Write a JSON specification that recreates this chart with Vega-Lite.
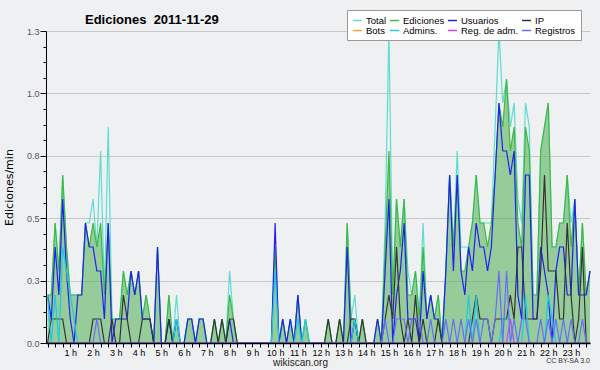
{
"$schema": "https://vega.github.io/schema/vega-lite/v6.json",
"width": 544, "height": 312,
"autosize": {"type": "none"},
"padding": {"left": 46, "top": 31, "right": 10, "bottom": 27},
"background": "#eff0f2",
"config": {"view": {"stroke": null}, "font": "Liberation Sans", "axis": {"labelOverlap": false}},
"title": {"text": "Ediciones\u00a0 2011-11-29", "anchor": "start", "frame": "group", "dx": 39, "dy": 16, "offset": -11, "baseline": "alphabetic", "font": "Liberation Sans", "fontSize": 13, "fontWeight": "bold", "color": "#000000"},
"data": {"values": [
{"m":0,"Total":0.2,"Ediciones":0.2,"Usuarios":0.2,"IP":0,"Admins":0.2,"RegAdm":0,"Registros":0},
{"m":10,"Total":0.2,"Ediciones":0.2,"Usuarios":0.1,"IP":0.1,"Admins":0,"RegAdm":0,"Registros":0},
{"m":20,"Total":0.5,"Ediciones":0.5,"Usuarios":0.4,"IP":0.1,"Admins":0.2,"RegAdm":0,"Registros":0},
{"m":30,"Total":0.3,"Ediciones":0.3,"Usuarios":0.2,"IP":0.1,"Admins":0,"RegAdm":0,"Registros":0},
{"m":40,"Total":0.7,"Ediciones":0.7,"Usuarios":0.6,"IP":0.1,"Admins":0.4,"RegAdm":0,"Registros":0},
{"m":50,"Total":0.4,"Ediciones":0.4,"Usuarios":0.3,"IP":0,"Admins":0.3,"RegAdm":0,"Registros":0},
{"m":60,"Total":0.2,"Ediciones":0.2,"Usuarios":0.1,"IP":0,"Admins":0.2,"RegAdm":0,"Registros":0},
{"m":70,"Total":0.2,"Ediciones":0.2,"Usuarios":0,"IP":0,"Admins":0.1,"RegAdm":0,"Registros":0},
{"m":80,"Total":0.2,"Ediciones":0.2,"Usuarios":0.2,"IP":0,"Admins":0,"RegAdm":0,"Registros":0},
{"m":90,"Total":0.2,"Ediciones":0.2,"Usuarios":0.2,"IP":0,"Admins":0,"RegAdm":0,"Registros":0},
{"m":100,"Total":0.5,"Ediciones":0.5,"Usuarios":0.5,"IP":0,"Admins":0,"RegAdm":0,"Registros":0},
{"m":110,"Total":0.5,"Ediciones":0.4,"Usuarios":0.4,"IP":0,"Admins":0,"RegAdm":0,"Registros":0},
{"m":120,"Total":0.6,"Ediciones":0.5,"Usuarios":0.4,"IP":0.1,"Admins":0,"RegAdm":0,"Registros":0},
{"m":130,"Total":0.4,"Ediciones":0.4,"Usuarios":0.3,"IP":0.1,"Admins":0,"RegAdm":0,"Registros":0.1},
{"m":140,"Total":0.8,"Ediciones":0.5,"Usuarios":0.3,"IP":0.1,"Admins":0,"RegAdm":0,"Registros":0},
{"m":150,"Total":0.2,"Ediciones":0.2,"Usuarios":0.1,"IP":0,"Admins":0,"RegAdm":0,"Registros":0},
{"m":160,"Total":0.9,"Ediciones":0.5,"Usuarios":0.5,"IP":0,"Admins":0,"RegAdm":0,"Registros":0},
{"m":170,"Total":0.1,"Ediciones":0.1,"Usuarios":0,"IP":0.1,"Admins":0,"RegAdm":0,"Registros":0},
{"m":180,"Total":0.1,"Ediciones":0.1,"Usuarios":0.1,"IP":0,"Admins":0,"RegAdm":0,"Registros":0},
{"m":190,"Total":0.1,"Ediciones":0.1,"Usuarios":0.1,"IP":0,"Admins":0,"RegAdm":0,"Registros":0},
{"m":200,"Total":0.3,"Ediciones":0.3,"Usuarios":0.1,"IP":0.2,"Admins":0,"RegAdm":0,"Registros":0},
{"m":210,"Total":0.2,"Ediciones":0.2,"Usuarios":0.1,"IP":0.1,"Admins":0,"RegAdm":0,"Registros":0},
{"m":220,"Total":0.3,"Ediciones":0.3,"Usuarios":0.3,"IP":0,"Admins":0,"RegAdm":0,"Registros":0},
{"m":230,"Total":0.2,"Ediciones":0.2,"Usuarios":0.2,"IP":0,"Admins":0,"RegAdm":0,"Registros":0},
{"m":240,"Total":0.3,"Ediciones":0.3,"Usuarios":0.3,"IP":0,"Admins":0,"RegAdm":0,"Registros":0},
{"m":250,"Total":0.1,"Ediciones":0.1,"Usuarios":0.1,"IP":0.1,"Admins":0,"RegAdm":0,"Registros":0},
{"m":260,"Total":0.2,"Ediciones":0.2,"Usuarios":0.1,"IP":0.1,"Admins":0,"RegAdm":0,"Registros":0},
{"m":270,"Total":0.1,"Ediciones":0.1,"Usuarios":0.1,"IP":0.1,"Admins":0,"RegAdm":0,"Registros":0},
{"m":280,"Total":0,"Ediciones":0,"Usuarios":0,"IP":0,"Admins":0,"RegAdm":0,"Registros":0},
{"m":290,"Total":0.4,"Ediciones":0.4,"Usuarios":0.4,"IP":0,"Admins":0,"RegAdm":0,"Registros":0},
{"m":300,"Total":0,"Ediciones":0,"Usuarios":0,"IP":0,"Admins":0,"RegAdm":0,"Registros":0},
{"m":310,"Total":0,"Ediciones":0,"Usuarios":0,"IP":0,"Admins":0,"RegAdm":0,"Registros":0},
{"m":320,"Total":0.2,"Ediciones":0.2,"Usuarios":0.1,"IP":0.1,"Admins":0,"RegAdm":0,"Registros":0},
{"m":330,"Total":0,"Ediciones":0,"Usuarios":0,"IP":0,"Admins":0,"RegAdm":0,"Registros":0},
{"m":340,"Total":0.2,"Ediciones":0.1,"Usuarios":0.1,"IP":0,"Admins":0.1,"RegAdm":0,"Registros":0},
{"m":350,"Total":0,"Ediciones":0,"Usuarios":0,"IP":0,"Admins":0,"RegAdm":0,"Registros":0},
{"m":360,"Total":0,"Ediciones":0,"Usuarios":0,"IP":0,"Admins":0,"RegAdm":0,"Registros":0},
{"m":370,"Total":0.1,"Ediciones":0.1,"Usuarios":0.1,"IP":0,"Admins":0,"RegAdm":0,"Registros":0},
{"m":380,"Total":0.1,"Ediciones":0.1,"Usuarios":0.1,"IP":0,"Admins":0,"RegAdm":0,"Registros":0},
{"m":390,"Total":0,"Ediciones":0,"Usuarios":0,"IP":0,"Admins":0,"RegAdm":0,"Registros":0},
{"m":400,"Total":0.1,"Ediciones":0.1,"Usuarios":0.1,"IP":0,"Admins":0,"RegAdm":0,"Registros":0},
{"m":410,"Total":0.1,"Ediciones":0.1,"Usuarios":0.1,"IP":0,"Admins":0,"RegAdm":0,"Registros":0},
{"m":420,"Total":0,"Ediciones":0,"Usuarios":0,"IP":0,"Admins":0,"RegAdm":0,"Registros":0},
{"m":430,"Total":0,"Ediciones":0,"Usuarios":0,"IP":0,"Admins":0,"RegAdm":0,"Registros":0},
{"m":440,"Total":0.1,"Ediciones":0.1,"Usuarios":0,"IP":0.1,"Admins":0,"RegAdm":0,"Registros":0},
{"m":450,"Total":0,"Ediciones":0,"Usuarios":0,"IP":0,"Admins":0,"RegAdm":0,"Registros":0},
{"m":460,"Total":0.1,"Ediciones":0.1,"Usuarios":0,"IP":0.1,"Admins":0,"RegAdm":0,"Registros":0},
{"m":470,"Total":0,"Ediciones":0,"Usuarios":0,"IP":0,"Admins":0,"RegAdm":0,"Registros":0},
{"m":480,"Total":0.3,"Ediciones":0.2,"Usuarios":0.1,"IP":0.1,"Admins":0,"RegAdm":0,"Registros":0},
{"m":490,"Total":0.1,"Ediciones":0.1,"Usuarios":0,"IP":0.1,"Admins":0,"RegAdm":0,"Registros":0},
{"m":500,"Total":0,"Ediciones":0,"Usuarios":0,"IP":0,"Admins":0,"RegAdm":0,"Registros":0},
{"m":510,"Total":0,"Ediciones":0,"Usuarios":0,"IP":0,"Admins":0,"RegAdm":0,"Registros":0},
{"m":520,"Total":0,"Ediciones":0,"Usuarios":0,"IP":0,"Admins":0,"RegAdm":0,"Registros":0},
{"m":530,"Total":0,"Ediciones":0,"Usuarios":0,"IP":0,"Admins":0,"RegAdm":0,"Registros":0},
{"m":540,"Total":0,"Ediciones":0,"Usuarios":0,"IP":0,"Admins":0,"RegAdm":0,"Registros":0},
{"m":550,"Total":0,"Ediciones":0,"Usuarios":0,"IP":0,"Admins":0,"RegAdm":0,"Registros":0},
{"m":560,"Total":0,"Ediciones":0,"Usuarios":0,"IP":0,"Admins":0,"RegAdm":0,"Registros":0},
{"m":570,"Total":0,"Ediciones":0,"Usuarios":0,"IP":0,"Admins":0,"RegAdm":0,"Registros":0},
{"m":580,"Total":0,"Ediciones":0,"Usuarios":0,"IP":0,"Admins":0,"RegAdm":0,"Registros":0},
{"m":590,"Total":0,"Ediciones":0,"Usuarios":0,"IP":0,"Admins":0,"RegAdm":0,"Registros":0},
{"m":600,"Total":0.4,"Ediciones":0.4,"Usuarios":0.5,"IP":0,"Admins":0.3,"RegAdm":0,"Registros":0},
{"m":610,"Total":0,"Ediciones":0,"Usuarios":0,"IP":0,"Admins":0,"RegAdm":0,"Registros":0},
{"m":620,"Total":0.1,"Ediciones":0.1,"Usuarios":0.1,"IP":0,"Admins":0,"RegAdm":0,"Registros":0},
{"m":630,"Total":0,"Ediciones":0,"Usuarios":0,"IP":0,"Admins":0,"RegAdm":0,"Registros":0},
{"m":640,"Total":0.1,"Ediciones":0.1,"Usuarios":0.1,"IP":0,"Admins":0,"RegAdm":0,"Registros":0},
{"m":650,"Total":0,"Ediciones":0,"Usuarios":0,"IP":0,"Admins":0,"RegAdm":0,"Registros":0},
{"m":660,"Total":0.2,"Ediciones":0.2,"Usuarios":0.2,"IP":0,"Admins":0.1,"RegAdm":0,"Registros":0},
{"m":670,"Total":0,"Ediciones":0,"Usuarios":0,"IP":0,"Admins":0,"RegAdm":0,"Registros":0},
{"m":680,"Total":0.1,"Ediciones":0.1,"Usuarios":0,"IP":0,"Admins":0.1,"RegAdm":0,"Registros":0},
{"m":690,"Total":0,"Ediciones":0,"Usuarios":0,"IP":0,"Admins":0,"RegAdm":0,"Registros":0},
{"m":700,"Total":0,"Ediciones":0,"Usuarios":0,"IP":0,"Admins":0,"RegAdm":0,"Registros":0},
{"m":710,"Total":0,"Ediciones":0,"Usuarios":0,"IP":0,"Admins":0,"RegAdm":0,"Registros":0},
{"m":720,"Total":0,"Ediciones":0,"Usuarios":0,"IP":0,"Admins":0,"RegAdm":0,"Registros":0},
{"m":730,"Total":0,"Ediciones":0,"Usuarios":0,"IP":0,"Admins":0,"RegAdm":0,"Registros":0},
{"m":740,"Total":0.1,"Ediciones":0.1,"Usuarios":0,"IP":0.1,"Admins":0,"RegAdm":0,"Registros":0},
{"m":750,"Total":0,"Ediciones":0,"Usuarios":0,"IP":0,"Admins":0,"RegAdm":0,"Registros":0},
{"m":760,"Total":0,"Ediciones":0,"Usuarios":0,"IP":0,"Admins":0,"RegAdm":0,"Registros":0},
{"m":770,"Total":0.1,"Ediciones":0.1,"Usuarios":0,"IP":0.1,"Admins":0,"RegAdm":0,"Registros":0},
{"m":780,"Total":0,"Ediciones":0,"Usuarios":0,"IP":0,"Admins":0,"RegAdm":0,"Registros":0},
{"m":790,"Total":0.5,"Ediciones":0.5,"Usuarios":0.4,"IP":0,"Admins":0,"RegAdm":0,"Registros":0},
{"m":800,"Total":0.1,"Ediciones":0.1,"Usuarios":0,"IP":0.1,"Admins":0,"RegAdm":0,"Registros":0},
{"m":810,"Total":0.2,"Ediciones":0.1,"Usuarios":0.1,"IP":0.1,"Admins":0.1,"RegAdm":0,"Registros":0},
{"m":820,"Total":0,"Ediciones":0,"Usuarios":0,"IP":0,"Admins":0,"RegAdm":0,"Registros":0},
{"m":830,"Total":0.1,"Ediciones":0.1,"Usuarios":0,"IP":0.1,"Admins":0,"RegAdm":0,"Registros":0},
{"m":840,"Total":0,"Ediciones":0,"Usuarios":0,"IP":0,"Admins":0,"RegAdm":0,"Registros":0},
{"m":850,"Total":0,"Ediciones":0,"Usuarios":0,"IP":0,"Admins":0,"RegAdm":0,"Registros":0},
{"m":860,"Total":0,"Ediciones":0,"Usuarios":0,"IP":0,"Admins":0,"RegAdm":0,"Registros":0},
{"m":870,"Total":0.1,"Ediciones":0.1,"Usuarios":0.1,"IP":0,"Admins":0,"RegAdm":0,"Registros":0},
{"m":880,"Total":0,"Ediciones":0,"Usuarios":0,"IP":0,"Admins":0,"RegAdm":0,"Registros":0},
{"m":890,"Total":0.5,"Ediciones":0.4,"Usuarios":0.3,"IP":0.1,"Admins":0,"RegAdm":0,"Registros":0.1},
{"m":900,"Total":1.3,"Ediciones":0.8,"Usuarios":0.6,"IP":0.2,"Admins":0,"RegAdm":0,"Registros":0},
{"m":910,"Total":0.2,"Ediciones":0.2,"Usuarios":0,"IP":0.1,"Admins":0,"RegAdm":0,"Registros":0},
{"m":920,"Total":0.6,"Ediciones":0.6,"Usuarios":0.2,"IP":0.4,"Admins":0,"RegAdm":0,"Registros":0.1},
{"m":930,"Total":0.4,"Ediciones":0.4,"Usuarios":0.3,"IP":0.1,"Admins":0,"RegAdm":0,"Registros":0.1},
{"m":940,"Total":0.6,"Ediciones":0.6,"Usuarios":0.5,"IP":0,"Admins":0,"RegAdm":0,"Registros":0.1},
{"m":950,"Total":0.3,"Ediciones":0.2,"Usuarios":0.1,"IP":0.1,"Admins":0,"RegAdm":0,"Registros":0},
{"m":960,"Total":0.2,"Ediciones":0.2,"Usuarios":0.1,"IP":0,"Admins":0,"RegAdm":0,"Registros":0.1},
{"m":970,"Total":0.3,"Ediciones":0.3,"Usuarios":0.1,"IP":0.2,"Admins":0,"RegAdm":0,"Registros":0.1},
{"m":980,"Total":0.1,"Ediciones":0.1,"Usuarios":0,"IP":0,"Admins":0,"RegAdm":0,"Registros":0.1},
{"m":990,"Total":0.5,"Ediciones":0.4,"Usuarios":0.3,"IP":0.1,"Admins":0,"RegAdm":0,"Registros":0},
{"m":1000,"Total":0.1,"Ediciones":0.1,"Usuarios":0.1,"IP":0,"Admins":0,"RegAdm":0,"Registros":0},
{"m":1010,"Total":0.2,"Ediciones":0.2,"Usuarios":0.2,"IP":0,"Admins":0,"RegAdm":0,"Registros":0.1},
{"m":1020,"Total":0.1,"Ediciones":0.1,"Usuarios":0.1,"IP":0,"Admins":0,"RegAdm":0,"Registros":0},
{"m":1030,"Total":0.2,"Ediciones":0.2,"Usuarios":0.1,"IP":0.1,"Admins":0,"RegAdm":0,"Registros":0},
{"m":1040,"Total":0,"Ediciones":0,"Usuarios":0,"IP":0,"Admins":0,"RegAdm":0,"Registros":0},
{"m":1050,"Total":0.3,"Ediciones":0.3,"Usuarios":0.3,"IP":0,"Admins":0,"RegAdm":0,"Registros":0.1},
{"m":1060,"Total":0.7,"Ediciones":0.7,"Usuarios":0.7,"IP":0,"Admins":0,"RegAdm":0,"Registros":0},
{"m":1070,"Total":0.4,"Ediciones":0.4,"Usuarios":0.3,"IP":0,"Admins":0,"RegAdm":0,"Registros":0.1},
{"m":1080,"Total":0.8,"Ediciones":0.7,"Usuarios":0.7,"IP":0,"Admins":0,"RegAdm":0,"Registros":0},
{"m":1090,"Total":0.4,"Ediciones":0.3,"Usuarios":0.3,"IP":0,"Admins":0,"RegAdm":0,"Registros":0.1},
{"m":1100,"Total":0.4,"Ediciones":0.3,"Usuarios":0.2,"IP":0,"Admins":0,"RegAdm":0,"Registros":0},
{"m":1110,"Total":0.4,"Ediciones":0.4,"Usuarios":0.4,"IP":0,"Admins":0.2,"RegAdm":0,"Registros":0.1},
{"m":1120,"Total":0.5,"Ediciones":0.5,"Usuarios":0.3,"IP":0.1,"Admins":0,"RegAdm":0,"Registros":0},
{"m":1130,"Total":0.7,"Ediciones":0.7,"Usuarios":0.5,"IP":0.2,"Admins":0.2,"RegAdm":0,"Registros":0.1},
{"m":1140,"Total":0.5,"Ediciones":0.5,"Usuarios":0.4,"IP":0.1,"Admins":0,"RegAdm":0,"Registros":0},
{"m":1150,"Total":0.5,"Ediciones":0.5,"Usuarios":0.4,"IP":0.1,"Admins":0,"RegAdm":0,"Registros":0.1},
{"m":1160,"Total":0.5,"Ediciones":0.4,"Usuarios":0.3,"IP":0.1,"Admins":0,"RegAdm":0,"Registros":0.1},
{"m":1170,"Total":0.5,"Ediciones":0.5,"Usuarios":0.4,"IP":0,"Admins":0,"RegAdm":0,"Registros":0},
{"m":1180,"Total":0.9,"Ediciones":0.7,"Usuarios":0.7,"IP":0.1,"Admins":0,"RegAdm":0,"Registros":0.1},
{"m":1190,"Total":1.3,"Ediciones":1.0,"Usuarios":1.0,"IP":0.1,"Admins":0,"RegAdm":0,"Registros":0.3},
{"m":1200,"Total":1.0,"Ediciones":0.9,"Usuarios":0.8,"IP":0.1,"Admins":0.1,"RegAdm":0,"Registros":0},
{"m":1210,"Total":1.1,"Ediciones":1.1,"Usuarios":0.8,"IP":0.1,"Admins":0.1,"RegAdm":0,"Registros":0.3},
{"m":1220,"Total":0.9,"Ediciones":0.8,"Usuarios":0.7,"IP":0.2,"Admins":0.1,"RegAdm":0.1,"Registros":0},
{"m":1230,"Total":1.0,"Ediciones":0.9,"Usuarios":0.8,"IP":0.1,"Admins":0,"RegAdm":0,"Registros":0.1},
{"m":1240,"Total":0.6,"Ediciones":0.5,"Usuarios":0.2,"IP":0.4,"Admins":0,"RegAdm":0,"Registros":0},
{"m":1250,"Total":0.5,"Ediciones":0.4,"Usuarios":0.1,"IP":0.4,"Admins":0,"RegAdm":0,"Registros":0.1},
{"m":1260,"Total":1.0,"Ediciones":0.9,"Usuarios":0.7,"IP":0.1,"Admins":0.2,"RegAdm":0,"Registros":0.1},
{"m":1270,"Total":0.9,"Ediciones":0.8,"Usuarios":0.7,"IP":0.1,"Admins":0,"RegAdm":0,"Registros":0},
{"m":1280,"Total":0.2,"Ediciones":0.2,"Usuarios":0.1,"IP":0.1,"Admins":0,"RegAdm":0,"Registros":0},
{"m":1290,"Total":0.2,"Ediciones":0.2,"Usuarios":0.1,"IP":0.1,"Admins":0,"RegAdm":0,"Registros":0},
{"m":1300,"Total":0.8,"Ediciones":0.8,"Usuarios":0.4,"IP":0.3,"Admins":0,"RegAdm":0,"Registros":0.1},
{"m":1310,"Total":0.9,"Ediciones":0.9,"Usuarios":0.3,"IP":0.7,"Admins":0,"RegAdm":0,"Registros":0},
{"m":1320,"Total":1.0,"Ediciones":1.0,"Usuarios":0.2,"IP":0.3,"Admins":0.2,"RegAdm":0,"Registros":0.1},
{"m":1330,"Total":0.4,"Ediciones":0.4,"Usuarios":0,"IP":0.3,"Admins":0.1,"RegAdm":0,"Registros":0},
{"m":1340,"Total":0.4,"Ediciones":0.4,"Usuarios":0.3,"IP":0.3,"Admins":0,"RegAdm":0,"Registros":0.1},
{"m":1350,"Total":0.5,"Ediciones":0.5,"Usuarios":0.4,"IP":0.1,"Admins":0,"RegAdm":0,"Registros":0},
{"m":1360,"Total":0.5,"Ediciones":0.5,"Usuarios":0.4,"IP":0.1,"Admins":0,"RegAdm":0,"Registros":0.1},
{"m":1370,"Total":0.7,"Ediciones":0.7,"Usuarios":0.2,"IP":0.5,"Admins":0,"RegAdm":0,"Registros":0},
{"m":1380,"Total":0.5,"Ediciones":0.4,"Usuarios":0.2,"IP":0.2,"Admins":0,"RegAdm":0,"Registros":0.1},
{"m":1390,"Total":0.6,"Ediciones":0.6,"Usuarios":0.6,"IP":0,"Admins":0,"RegAdm":0,"Registros":0},
{"m":1400,"Total":0.2,"Ediciones":0.2,"Usuarios":0.2,"IP":0.1,"Admins":0,"RegAdm":0,"Registros":0},
{"m":1410,"Total":0.5,"Ediciones":0.5,"Usuarios":0.2,"IP":0.4,"Admins":0,"RegAdm":0,"Registros":0.1},
{"m":1420,"Total":0.2,"Ediciones":0.2,"Usuarios":0.2,"IP":0,"Admins":0,"RegAdm":0,"Registros":0},
{"m":1430,"Total":0.3,"Ediciones":0.3,"Usuarios":0.3,"IP":0,"Admins":0,"RegAdm":0,"Registros":0}
]},
"layer": [
{
"mark": {"type": "area", "color": "#4caf50", "opacity": 0.55, "interpolate": "linear"},
"encoding": {
"x": {"field": "m", "type": "quantitative", "scale": {"domain": [-4, 1430], "nice": false, "zero": false},
 "axis": {"orient": "bottom", "values": [60,120,180,240,300,360,420,480,540,600,660,720,780,840,900,960,1020,1080,1140,1200,1260,1320,1380],
 "labelExpr": "(datum.value / 60) + ' h'",
 "tickSize": 4, "tickColor": "#000000", "domainColor": "#000000", "domainWidth": 1.5, "grid": false,
 "labelFont": "Liberation Sans", "labelFontSize": 9, "labelColor": "#000000", "labelPadding": 1, "labelOverlap": false, "labelFlush": false, "labelBound": false,
 "title": "wikiscan.org", "titleFont": "Liberation Sans", "titleFontSize": 10, "titleFontWeight": "normal", "titleColor": "#222222",
 "titleX": 254, "titleY": 22, "titleAlign": "center", "titleBaseline": "alphabetic", "zindex": 1}},
"y": {"field": "Ediciones", "type": "quantitative", "scale": {"domain": [0, 1.3], "nice": false},
 "axis": {"orient": "left", "values": [0.065,0.13,0.195,0.325,0.39,0.455,0.585,0.65,0.715,0.845,0.91,0.975,1.105,1.17,1.235], "labels": false, "tickSize": 3, "tickColor": "#000000", "grid": false, "domain": false, "title": null}}
}
},
{
"transform": [{"fold": ["Total", "Ediciones", "Usuarios", "IP", "Admins", "RegAdm", "Registros"], "as": ["serie", "v"]}],
"mark": {"type": "line", "strokeWidth": 1.2, "interpolate": "linear"},
"encoding": {
"x": {"field": "m", "type": "quantitative",
 "axis": {"orient": "bottom", "values": [0,20,40,80,100,140,160,200,220,260,280,320,340,380,400,440,460,500,520,560,580,620,640,680,700,740,760,800,820,860,880,920,940,980,1000,1040,1060,1100,1120,1160,1180,1220,1240,1280,1300,1340,1360,1400,1420],
 "labels": false, "tickSize": 4, "tickColor": "#000000", "domain": false, "grid": false, "title": null, "zindex": 1}},
"y": {"field": "v", "type": "quantitative", "scale": {"domain": [0, 1.3], "nice": false},
 "axis": {"orient": "left", "values": [0, 0.26, 0.52, 0.78, 1.04, 1.3], "format": ".1f", "grid": true, "gridColor": "#c8c8c8", "tickSize": 6, "tickColor": "#000000", "domainColor": "#000000",
 "labelFont": "Liberation Sans", "labelFontSize": 9, "labelColor": "#555555", "labelPadding": 1, "labelOverlap": false, "labelFlush": false,
 "title": "Ediciones/min", "titleFont": "DejaVu Sans", "titleFontSize": 11, "titleFontWeight": "normal", "titleColor": "#000000",
 "titleX": -37, "titleY": 156, "titleAngle": -90, "titleAlign": "center", "titleBaseline": "middle"}},
"color": {"field": "serie", "type": "nominal",
 "scale": {"domain": ["Total", "Ediciones", "Usuarios", "IP", "Bots", "Admins", "RegAdm", "Registros"],
 "range": ["#5fdcd0", "#40b840", "#2020f0", "#333333", "#ffa030", "#20c8e0", "#d040e8", "#6a6aff"]},
 "legend": {"orient": "none", "legendX": 301, "legendY": -21, "columns": 4, "direction": "horizontal", "title": null,
 "symbolType": "stroke", "symbolSize": 80, "symbolStrokeWidth": 1.5,
 "labelFont": "Liberation Sans", "labelFontSize": 9.5, "labelColor": "#000000", "labelOffset": 3, "labelLimit": 100,
 "labelExpr": "datum.label == 'Admins' ? 'Admins.' : datum.label == 'RegAdm' ? 'Reg. de adm.' : datum.label",
 "fillColor": "#ffffff", "strokeColor": "#999999", "padding": 5, "rowPadding": 0, "columnPadding": 0}}
}
},
{
"data": {"values": [{"t": "CC BY-SA 3.0"}]},
"mark": {"type": "text", "align": "right", "baseline": "alphabetic", "dy": 20, "font": "Liberation Sans", "fontSize": 7, "color": "#333333"},
"encoding": {
"x": {"datum": 1430, "type": "quantitative", "axis": null},
"y": {"datum": 0, "type": "quantitative", "axis": null},
"text": {"field": "t"}
}
}
],
"resolve": {"axis": {"x": "independent", "y": "independent"}}
}
